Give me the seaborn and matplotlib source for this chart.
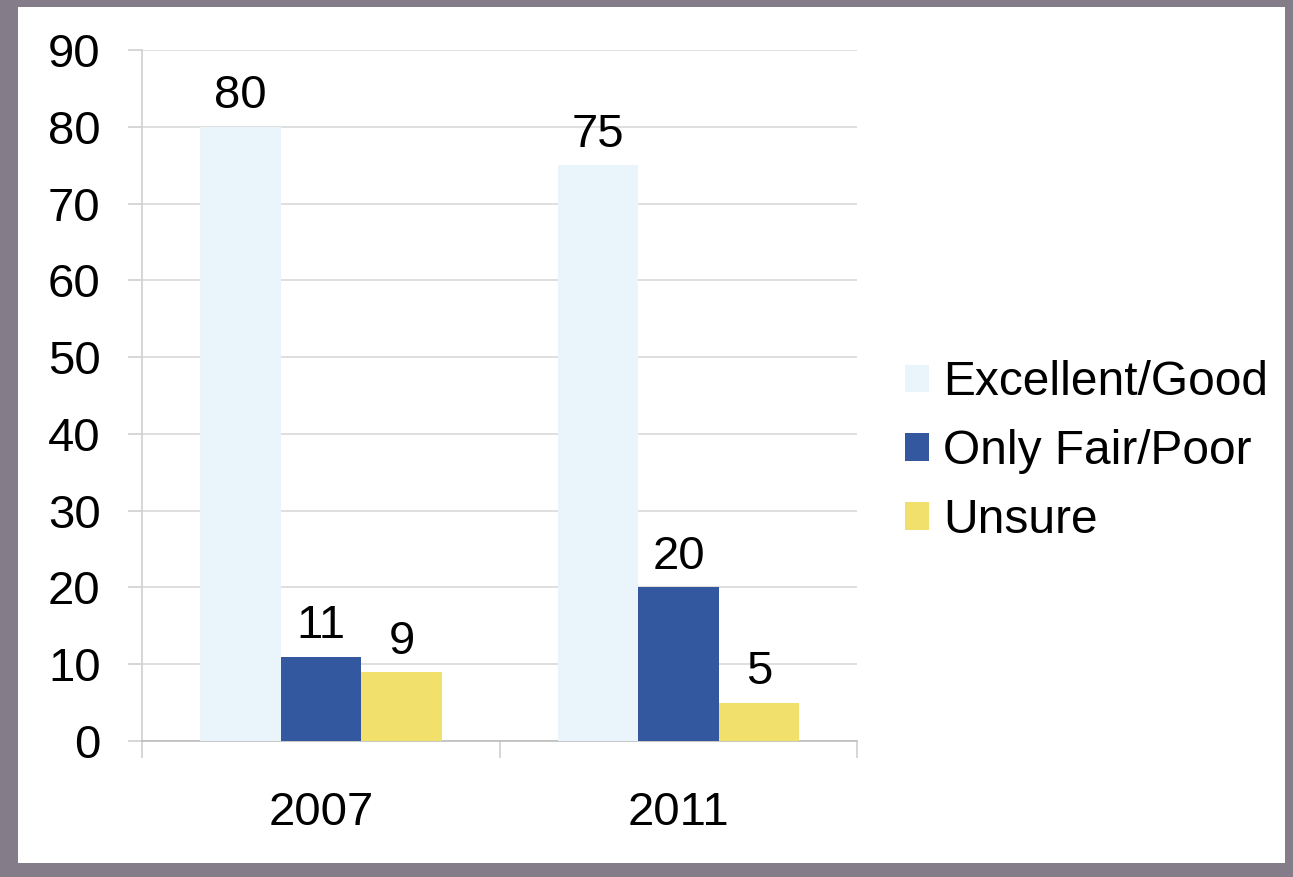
import matplotlib.pyplot as plt
import matplotlib.patches as mpatches
import pandas as pd
import seaborn as sns

# Data
years = ['2007', '2011']
ratings = ['Excellent/Good', 'Only Fair/Poor', 'Unsure']
excellent_good = [80, 75]
only_fair_poor = [11, 20]
unsure = [9, 5]
bar_colors = ['#e9f5fb', '#34589f', '#f2e06c']

df = pd.DataFrame({
    'year': years * 3,
    'rating': [r for r in ratings for _ in years],
    'value': excellent_good + only_fair_poor + unsure,
})

sns.set_style('white')
plt.rcParams['font.family'] = ['Liberation Sans', 'DejaVu Sans']
plt.rcParams['text.color'] = 'black'
plt.rcParams['xtick.color'] = 'black'
plt.rcParams['ytick.color'] = 'black'

fig = plt.figure(figsize=(12.93, 8.77), dpi=100)
fig.patch.set_facecolor('#857c8a')
# white slide area inside the photo border
fig.patches.append(mpatches.Rectangle((0.014, 0.016), 0.98, 0.976, transform=fig.transFigure,
                                      facecolor='white', edgecolor='none', zorder=-1))

ax = fig.add_axes([0.110, 0.155, 0.553, 0.788])
ax.set_facecolor('none')
sns.barplot(data=df, x='year', y='value', hue='rating', hue_order=ratings,
            palette=bar_colors, saturation=1, width=0.675, linewidth=0,
            ax=ax, legend=False, zorder=3)

# Data labels
for cont in ax.containers:
    ax.bar_label(cont, fmt='%d', padding=6, fontsize=34, color='black')

ax.set_ylim(0, 90)
ax.set_yticks(range(0, 91, 10))
ax.set_xlim(-0.5, 1.5)
ax.yaxis.grid(True, color='#d9d9d9', linewidth=1.2, zorder=0)
ax.set_axisbelow(True)
ax.set_xlabel('')
ax.set_ylabel('')

for s in ['top', 'right']:
    ax.spines[s].set_visible(False)
ax.spines['left'].set_color('#d0d0d0')
ax.spines['bottom'].set_color('#bdbdbd')
ax.spines['left'].set_linewidth(1.2)
ax.spines['bottom'].set_linewidth(1.2)

ax.tick_params(axis='y', labelsize=34, length=10, width=1.2, color='#d0d0d0',
               labelcolor='black', pad=20, left=True)
ax.tick_params(axis='x', which='major', labelsize=34, length=0, labelcolor='black', pad=36)
ax.set_xticks([-0.5, 0.5, 1.5], minor=True)
ax.tick_params(axis='x', which='minor', length=12, width=1.2, color='#d0d0d0', bottom=True)

handles = [mpatches.Patch(facecolor=c, edgecolor='none') for c in bar_colors]
fig.legend(handles, ratings, loc='center left', bbox_to_anchor=(0.700, 0.485),
           frameon=False, fontsize=34.5, handlelength=0.5, handleheight=0.5,
           handletextpad=0.3, labelspacing=0.5, borderpad=0, borderaxespad=0)

fig.savefig('out.png', dpi=100)
